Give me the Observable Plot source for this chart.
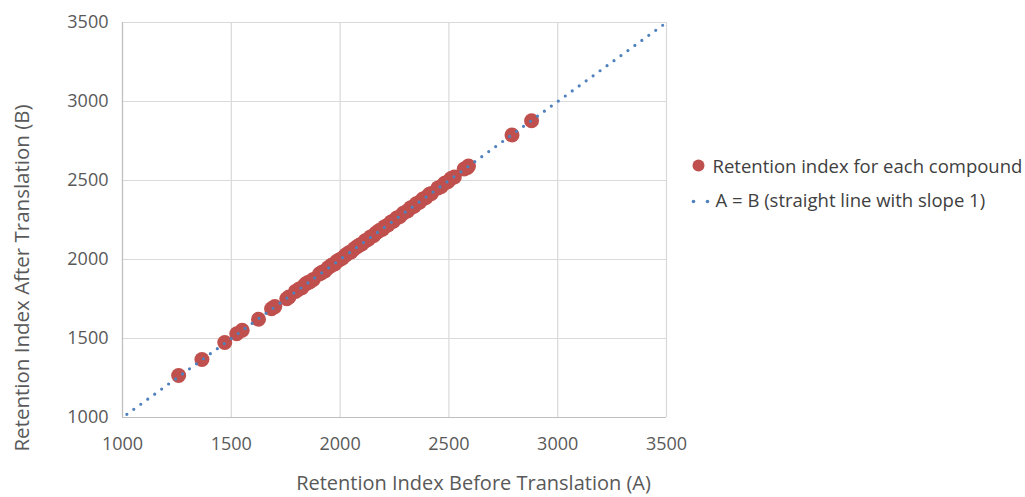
<!DOCTYPE html>
<html>
<head>
<meta charset="utf-8">
<script src="https://cdn.jsdelivr.net/npm/d3@7"></script>
<script src="https://cdn.jsdelivr.net/npm/@observablehq/plot@0.6"></script>
<style>
  html, body { margin: 0; padding: 0; background: #fff; }
  #chart { width: 1025px; height: 497px; }
</style>
</head>
<body>
<div id="chart"></div>
<script>
// Retention index before translation (A)
const before = [1258,1365,1470,1525,1550,1625,1685,1700,1755,1765,1795,1810,1825,1840,1850,1860,1877,1905,1915,1930,1945,1960,1975,1985,1995,2010,2025,2040,2050,2065,2080,2090,2100,2115,2130,2140,2155,2165,2180,2195,2205,2220,2235,2245,2260,2275,2290,2310,2325,2340,2350,2365,2380,2395,2410,2420,2450,2465,2480,2495,2510,2525,2570,2585,2590,2790,2880];
// Retention index after translation (B)
const after = [1266,1367,1475,1530,1552,1622,1688,1702,1752,1763,1798,1812,1822,1843,1853,1858,1874,1908,1917,1928,1948,1963,1972,1988,1997,2008,2028,2043,2048,2068,2083,2092,2098,2118,2128,2143,2153,2168,2183,2192,2208,2218,2238,2243,2263,2272,2293,2308,2328,2337,2353,2362,2383,2392,2413,2418,2453,2462,2483,2492,2513,2522,2573,2582,2592,2788,2878];
// A = B reference line endpoints
const lineA = [1020, 3490];
const lineB = [1020, 3490];
// Tick values
const ticks = [1000, 1500, 2000, 2500, 3000, 3500];
const xTitle = "Retention Index Before Translation (A)";
const yTitle = "Retention Index After Translation (B)";
const legendLabels = ["Retention index for each compound", "A = B (straight line with slope 1)"];

const points = before.map((a, i) => ({a, b: after[i]}));
const line = lineA.map((a, i) => ({a, b: lineB[i]}));

const red = "#C0504D";
const blue = "#4F81BD";
const textColor = "#595959";

const chart = Plot.plot({
  width: 1025,
  height: 497,
  marginLeft: 122,
  marginRight: 359,
  marginTop: 22,
  marginBottom: 80,
  style: {fontFamily: "'Open Sans', sans-serif", fontSize: "18px", color: textColor, background: "#fff", overflow: "visible"},
  x: {domain: [1000, 3500], ticks: ticks},
  y: {domain: [1000, 3500], ticks: ticks},
  marks: [
    Plot.gridX(ticks, {stroke: "#d9d9d9", strokeOpacity: 1, strokeWidth: 1.2}),
    Plot.gridY(ticks, {stroke: "#d9d9d9", strokeOpacity: 1, strokeWidth: 1.2}),
    Plot.ruleX([1000], {stroke: "#bfbfbf", strokeWidth: 1.2}),
    Plot.ruleY([1000], {stroke: "#bfbfbf", strokeWidth: 1.2}),
    Plot.axisX({ticks: ticks, tickSize: 0, tickPadding: 20, label: null, tickFormat: d3.format("d"), fill: textColor, fontSize: 18}),
    Plot.axisY({ticks: ticks, tickSize: 0, tickPadding: 14, label: null, tickFormat: d3.format("d"), fill: textColor, fontSize: 18}),
    Plot.dot(points, {x: "a", y: "b", r: 7.5, fill: red, stroke: "none"}),
    Plot.line(line, {x: "a", y: "b", stroke: blue, strokeWidth: 3.2, strokeDasharray: "0 8.6", strokeLinecap: "round"}),
    Plot.text([xTitle], {frameAnchor: "bottom", textAnchor: "middle", lineAnchor: "middle", dx: 79, dy: 66, fill: textColor, fontSize: 20}),
    Plot.text([yTitle], {frameAnchor: "left", textAnchor: "middle", lineAnchor: "middle", rotate: -90, dx: -100, dy: 58, fill: textColor, fontSize: 20.5}),
    // legend
    Plot.dot([0], {frameAnchor: "top-right", dx: 32, dy: 143, r: 6, fill: red}),
    Plot.text([legendLabels[0]], {frameAnchor: "top-right", dx: 46, dy: 145, textAnchor: "start", lineAnchor: "middle", fill: "#404040", fontSize: 18.5}),
    Plot.dot([0], {frameAnchor: "top-right", dx: 27, dy: 179, r: 1.8, fill: blue}),
    Plot.dot([0], {frameAnchor: "top-right", dx: 41, dy: 179, r: 1.8, fill: blue}),
    Plot.text([legendLabels[1]], {frameAnchor: "top-right", dx: 49, dy: 179, textAnchor: "start", lineAnchor: "middle", fill: "#404040", fontSize: 18.5})
  ]
});
document.getElementById("chart").appendChild(chart);
</script>
</body>
</html>
